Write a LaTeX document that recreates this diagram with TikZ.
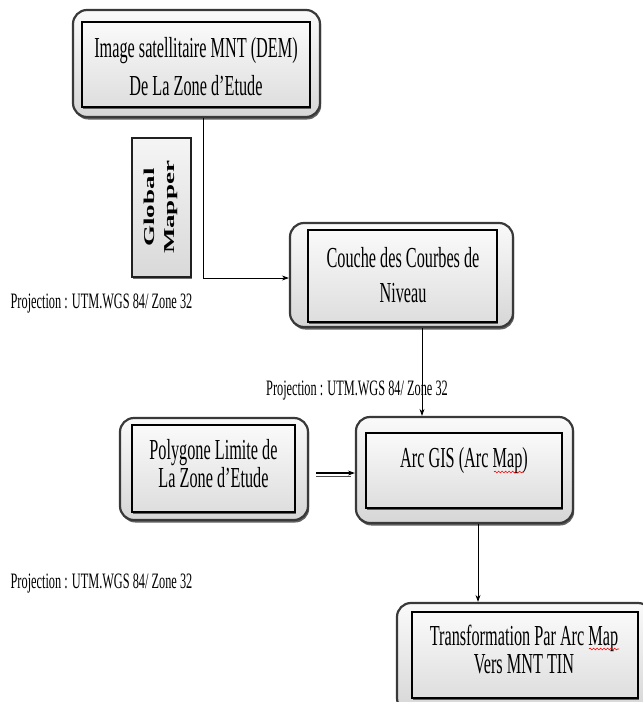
\documentclass[tikz,border=0pt]{standalone}
\usepackage{fontspec}
\setmainfont{Liberation Serif}[FakeStretch=0.56]
\newfontfamily\gmfont{Liberation Serif}
\usetikzlibrary{arrows.meta,shadows,decorations.pathmorphing}
\begin{document}
\begin{tikzpicture}[x=1pt,y=-1pt,
  outerbox/.style={rectangle, rounded corners=14pt, draw=gray!45!black, line width=2.2pt,
    top color=gray!4, bottom color=gray!32, inner sep=0pt,
    drop shadow={shadow xshift=1.2pt, shadow yshift=-2.5pt, fill=gray!55!black, opacity=0.85}},
  innerbox/.style={rectangle, draw=black, line width=1.5pt, top color=gray!4, bottom color=gray!26, inner sep=0pt,
    drop shadow={shadow xshift=0.8pt, shadow yshift=-1.8pt, fill=gray!60!black, opacity=0.85}},
  gmbox/.style={rectangle, draw=gray!25!black, line width=1.6pt, top color=gray!8, bottom color=gray!30, inner sep=0pt,
    drop shadow={shadow xshift=1pt, shadow yshift=-2pt, fill=gray!60!black, opacity=0.8}},
  boxtext/.style={align=center, inner sep=0pt, text=black},
  proj/.style={inner sep=0pt, font=\fontsize{22}{26}\selectfont},
  arr/.style={draw=black, line width=0.8pt, -{Stealth[length=7pt,width=5pt]}},
  squig/.style={draw=red, line width=0.6pt, decorate, decoration={snake, amplitude=0.9pt, segment length=3.5pt}}
]
\useasboundingbox (0,0) rectangle (643,702);
\clip (0,0) rectangle (643,702);
\fill[white] (0,0) rectangle (643,702);

% Image satellitaire
\node[outerbox, minimum width=247pt, minimum height=107pt] (img) at (196.5,63.5) {};
\node[innerbox, minimum width=228pt, minimum height=85pt] (imgin) at (196,64.5) {};
\node[boxtext, font=\fontsize{29}{38}\selectfont] (imgt) at (196,67) {Image satellitaire MNT (DEM)\\De La Zone d’Etude};

% Global Mapper
\node[gmbox, minimum width=59pt, minimum height=139pt] (gm) at (161.5,207.5) {};
\node[inner sep=0pt] (gmt) at (160.5,207.5) {\scalebox{0.56}[1]{\rotatebox{90}{\gmfont\bfseries\fontsize{27}{36}\selectfont\begin{tabular}{@{}c@{}}Global\\Mapper\end{tabular}}}};

% Couche des Courbes
\node[outerbox, minimum width=223pt, minimum height=104pt] (couche) at (401.5,275) {};
\node[innerbox, minimum width=189pt, minimum height=92pt] (coucheIn) at (402.5,276) {};
\node[boxtext, font=\fontsize{29}{35}\selectfont] (couchet) at (403,275) {Couche des Courbes de\\Niveau};

% Polygone
\node[outerbox, minimum width=188pt, minimum height=102pt] (poly) at (214,469) {};
\node[innerbox, minimum width=163pt, minimum height=87pt] (polyIn) at (213.5,468.5) {};
\node[boxtext, font=\fontsize{29}{28}\selectfont] (polyt) at (213.5,464) {Polygone Limite de\\La Zone d’Etude};

% Arc GIS
\node[outerbox, minimum width=217pt, minimum height=106pt] (arc) at (464.5,470) {};
\node[innerbox, minimum width=196pt, minimum height=75pt] (arcIn) at (464,470.5) {};
\node[boxtext, font=\fontsize{29}{34}\selectfont] (arct) at (464,461) {Arc GIS (Arc Map)};

% Transformation
\node[outerbox, minimum width=255pt, minimum height=109pt] (trans) at (524.5,657.5) {};
\node[innerbox, minimum width=226pt, minimum height=86pt] (transIn) at (525,655) {};
\node[boxtext, font=\fontsize{29}{28}\selectfont] (transt) at (524,650) {Transformation Par Arc Map\\Vers MNT TIN};

% spell-check underlines
\draw[squig] (494,472) -- (523,472);
\draw[squig] (589,649) -- (619,649);

% Projection labels
\node[proj, anchor=base] (p1) at (101.5,308) {Projection : UTM.WGS 84/ Zone 32};
\node[proj, anchor=base] (p2) at (357,395) {Projection : UTM.WGS 84/ Zone 32};
\node[proj, anchor=base] (p3) at (101.5,588) {Projection : UTM.WGS 84/ Zone 32};

% Connectors
\coordinate (k1) at (203,278);
\draw[arr] (img.south -| k1) -- (k1) -- (couche.west |- k1);
\coordinate (k2) at (422,0);
\draw[arr] (couche.south -| k2) -- (arc.north -| k2);
\coordinate (k3) at (316,473);
\coordinate (k3s) at (316,476);
\draw[draw=gray!60!black, line width=1pt] (k3s) -- ([xshift=-4pt]arc.west |- k3s);
\draw[arr, line width=1.1pt] (k3) -- (arc.west |- k3);
\coordinate (k4) at (478,0);
\draw[arr] (arc.south -| k4) -- (trans.north -| k4);
\end{tikzpicture}
\end{document}
